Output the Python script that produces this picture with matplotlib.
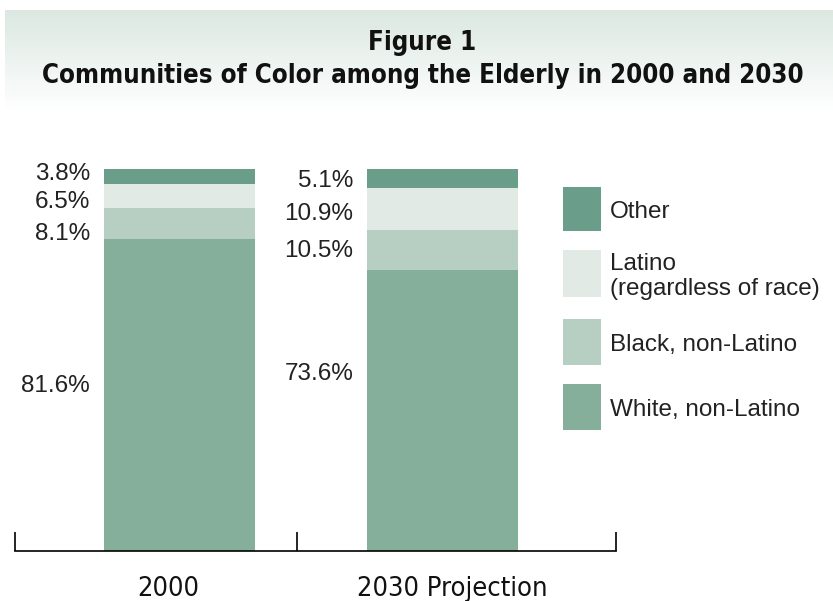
import numpy as np
import matplotlib.pyplot as plt
from matplotlib.patches import Rectangle

# data
years = ["2000", "2030 Projection"]
groups = ["White, non-Latino", "Black, non-Latino",
          "Latino\n(regardless of race)", "Other"]
white = [81.6, 73.6]
black = [8.1, 10.5]
latino = [6.5, 10.9]
other = [3.8, 5.1]
shares = [white, black, latino, other]
colors = ["#85ae9b", "#b7cec2", "#e1eae5", "#6b9e8a"]

W, H = 833, 601
fig = plt.figure(figsize=(W / 100, H / 100), dpi=100)

# title band with gradient
bg = fig.add_axes([5 / W, 1 - 112 / H, 1 - 5 / W, 102 / H])
grad = np.linspace(0, 1, 100).reshape(-1, 1)
top = np.array([0.86, 0.91, 0.885])
rgb = top[None, None, :] * (1 - grad[:, :, None]) + np.ones(3)[None, None, :] * grad[:, :, None]
bg.imshow(rgb, aspect="auto", extent=[0, 1, 0, 1])
bg.axis("off")

title_font = dict(fontsize=18.5, fontweight="bold", fontstretch="condensed",
                  family="DejaVu Sans", color="#111111")
fig.text(0.507, 1 - 43 / H, "Figure 1", ha="center", va="center", **title_font)
fig.text(0.507, 1 - 76 / H, "Communities of Color among the Elderly in 2000 and 2030",
         ha="center", va="center", **title_font)

# plot area
ax = fig.add_axes([15 / W, 1 - 551 / H, (616 - 15) / W, (551 - 169) / H])
x = np.arange(len(years))
bottom = np.zeros(len(years))
for vals, c in zip(shares, colors):
    ax.bar(x, vals, width=0.574, bottom=bottom, color=c, linewidth=0)
    bottom += np.array(vals)

ax.set_xlim(-0.625, 1.66)
ax.set_ylim(0, 100)
for s in ["top", "left", "right"]:
    ax.spines[s].set_visible(False)
ax.spines["bottom"].set_linewidth(1.2)
ax.set_yticks([])
ax.set_xticks([-0.625, 0.447, 1.66])
ax.set_xticklabels([])
ax.tick_params(axis="x", direction="in", length=14, width=1.2)

# value labels (left of each bar), nudged apart where segments are thin
label_font = dict(family="Liberation Sans", fontsize=17.5, color="#222222")
nudges = [[2.4, 9.5], [-2.7, -0.2], [-1.7, -1.3], [0.7, -0.8]]  # per group, per year
for i in range(len(years)):
    base = 0.0
    for g, vals in enumerate(shares):
        v = vals[i]
        yc = base + v / 2 + nudges[g][i]
        ax.text(x[i] - 0.574 / 2 - 0.052, yc, f"{v:.1f}%", ha="right",
                va="center", **label_font)
        base += v

year_shift = [-0.044, 0.036]
for i, yr in enumerate(years):
    ax.text(x[i] + year_shift[i], -9.9, yr, ha="center", va="center",
            fontsize=19.5, fontstretch="condensed", family="DejaVu Sans",
            color="#111111")

# legend (top to bottom: Other, Latino, Black, White)
leg_tops = [187, 250, 319, 384]
leg_h = [44, 47, 46, 46]
legend_font = dict(label_font, fontsize=17.5)
for k, g in enumerate(reversed(range(len(groups)))):
    y0 = 1 - (leg_tops[k] + leg_h[k]) / H
    fig.patches.append(Rectangle((563 / W, y0), 38 / W, leg_h[k] / H,
                                 transform=fig.transFigure, color=colors[g],
                                 linewidth=0))
    fig.text(610 / W, y0 + leg_h[k] / 2 / H - 3 / H, groups[g], ha="left",
             va="center", linespacing=1.2, **legend_font)

fig.savefig("out.png", dpi=100)
